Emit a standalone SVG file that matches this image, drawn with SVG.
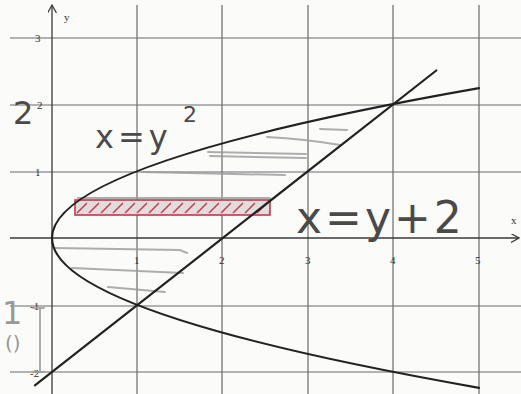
<svg xmlns="http://www.w3.org/2000/svg" width="521" height="394" viewBox="0 0 521 394">
<style>
.grid{stroke:#6a6a6a;stroke-width:1.2;fill:none}
.axis{stroke:#3a3a3a;stroke-width:1.3;fill:none}
.curve{stroke:#222;stroke-width:2.2;fill:none;stroke-linecap:round}
.tick{font-family:"Liberation Serif",serif;font-size:11px;fill:#333}
.hand{font-family:"DejaVu Sans",sans-serif;fill:#4a4a4a}
.pencil{stroke:#9a9a9a;stroke-width:2;fill:none;stroke-linecap:round;opacity:0.8}
</style>
<defs>
<marker id="arr" viewBox="0 0 10 10" refX="9" refY="5" markerWidth="9" markerHeight="9" orient="auto" markerUnits="userSpaceOnUse">
<path d="M0,0 L9,5 L0,10" fill="none" stroke="#3a3a3a" stroke-width="1.4"/>
</marker>
<pattern id="hatch" patternUnits="userSpaceOnUse" width="12" height="15" x="75" y="200">
<path d="M2,13 L12,3" stroke="#c0394a" stroke-width="1.5"/>
</pattern>
</defs>
<rect width="521" height="394" fill="#fbfbfa"/>
<g id="grid">
<path class="grid" d="M137,5V394M222,5V394M308,5V394M393,5V394M479,5V394"/>
<path class="grid" d="M10,38H521M10,105H521M10,172H521M10,306H521M10,372H521"/>
</g>
<g id="axes">
<path class="axis" d="M10,238H519" marker-end="url(#arr)"/>
<path class="axis" d="M52,394V5" marker-end="url(#arr)"/>
<text class="tick" x="64" y="21">y</text>
<text class="tick" x="511" y="224">x</text>
<text class="tick" x="35" y="42">3</text>
<text class="tick" x="37" y="109">2</text>
<text class="tick" x="35" y="176">1</text>
<text class="tick" x="30" y="310">-1</text>
<text class="tick" x="30" y="377">-2</text>
<text class="tick" x="134" y="264">1</text>
<text class="tick" x="219" y="264">2</text>
<text class="tick" x="305" y="264">3</text>
<text class="tick" x="390" y="264">4</text>
<text class="tick" x="475" y="264">5</text>
</g>
<g id="shading">
<path class="pencil" d="M320,129 L347,130"/>
<path class="pencil" d="M267,137 Q305,139 340,145"/>
<path class="pencil" d="M208,152 L306,154"/>
<path class="pencil" d="M210,156 L306,158"/>
<path class="pencil" d="M143,172 L285,175"/>
<path class="pencil" d="M78,198 L270,198"/>
<path class="pencil" d="M55,248 L180,250 L187,253"/>
<path class="pencil" d="M72,268 L183,273"/>
<path class="pencil" d="M108,287 L165,292"/>
<path class="pencil" d="M33,308 L44,308 M40,308 V372 M33,372 L44,372"/>
</g>
<g id="strip">
<rect x="75" y="200" width="195" height="15" fill="#e2dcdc"/>
<rect x="75" y="200" width="195" height="15" fill="url(#hatch)" stroke="#c0394a" stroke-width="1.6"/>
</g>
<g id="parabola">
<path class="curve" d="M479,88.2 Q-375,238 479,387.8"/>
</g>
<g id="line">
<path class="curve" d="M34.9,385.4 L436.3,70.5"/>
</g>
<g id="labels">
<text class="hand" x="95" y="148" font-size="32" letter-spacing="4">x=y</text>
<text class="hand" x="183" y="122" font-size="22">2</text>
<text class="hand" x="296" y="233" font-size="44" letter-spacing="3">x=y+2</text>
<text class="hand" x="13" y="124" font-size="32">2</text>
<text class="hand" x="2" y="324" font-size="32" style="fill:#999">1</text>
<text class="hand" x="5" y="350" font-size="20" style="fill:#999">()</text>
</g>
</svg>
